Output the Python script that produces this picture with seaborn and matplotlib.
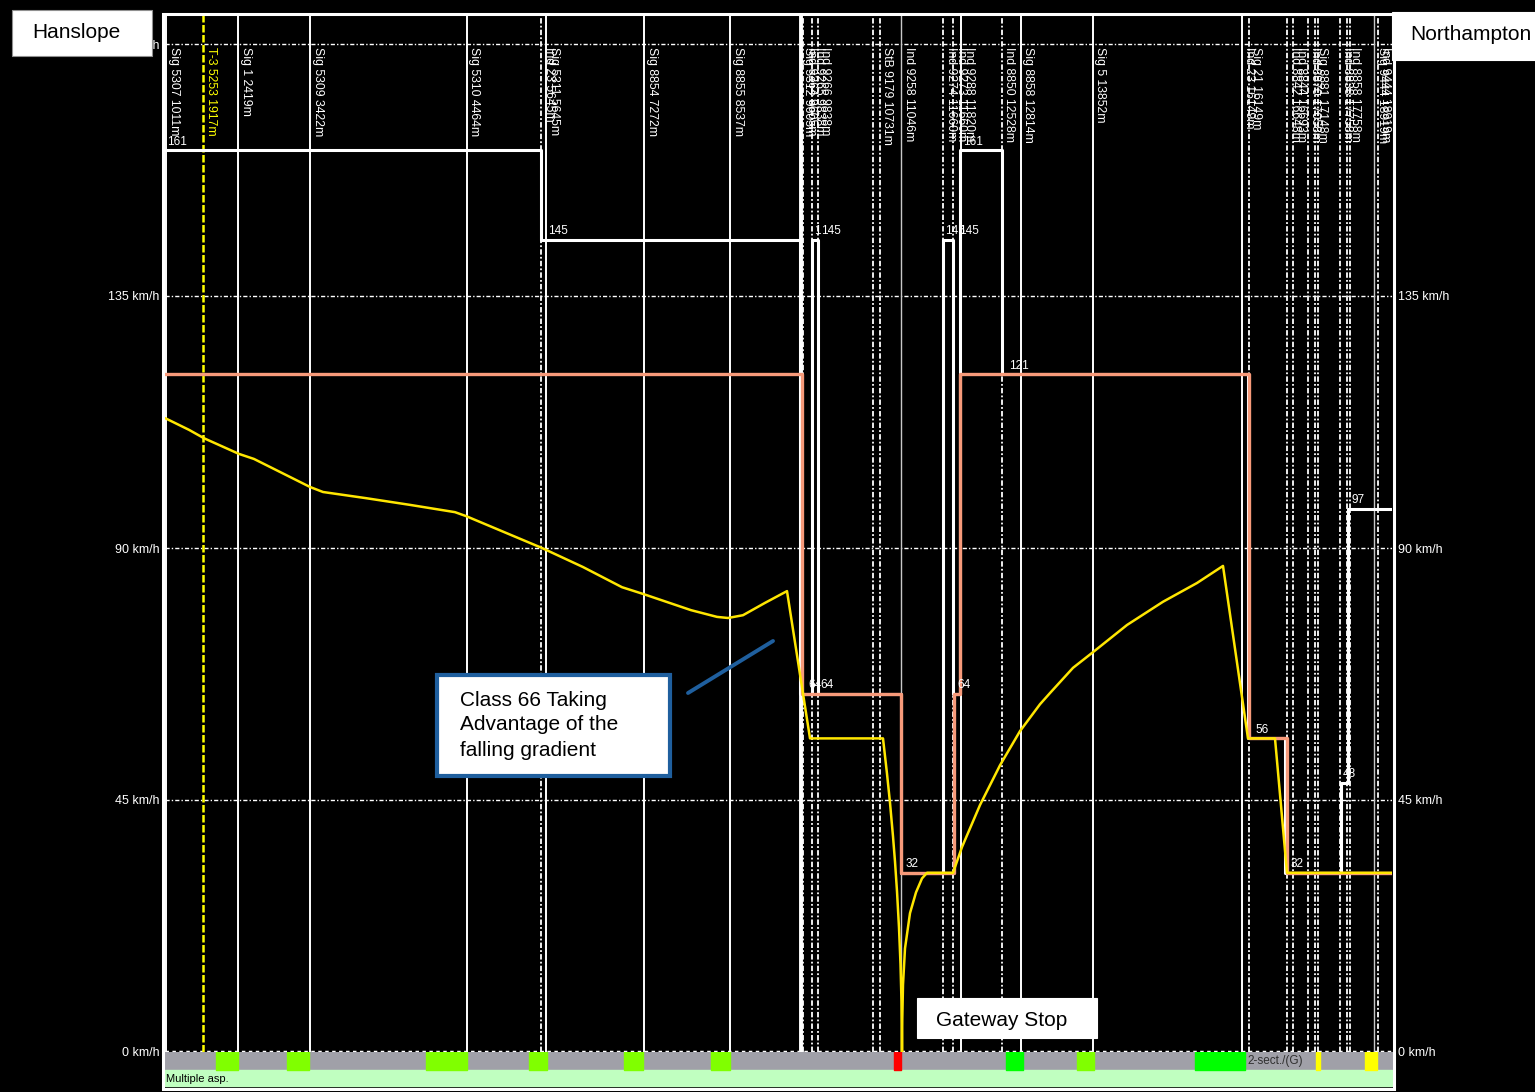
import matplotlib
matplotlib.use("Agg")
import matplotlib.pyplot as plt
import matplotlib.transforms as mtransforms
from matplotlib.patches import Rectangle
from matplotlib.lines import Line2D
import numpy as np
import pandas as pd
import seaborn as sns

# ---------------- data ----------------
speed_ticks = [0, 45, 90, 135, 180]

# track markers (chart position, label, kind)
marker_pos = [166, 203, 238, 310, 467, 541, 546, 644, 730,
              800.5, 803, 812, 818, 873, 880, 901, 943, 953, 961,
              1002, 1021, 1093, 1242, 1249, 1287, 1293, 1308, 1315, 1318,
              1340, 1347, 1350, 1374, 1378]
marker_label = ["Sig 5307 1011m", "T-3 5253 1917m", "Sig 1 2419m", "Sig 5309 3422m",
                "Sig 5310 4464m", "Ind 23 5645m", "Sig 5311 5645m", "Sig 8854 7272m",
                "Sig 8855 8537m", "Sig 5312 9605m", "Ind 9264 9605m", "Ind 9265 9838m",
                "Ind 9266 9838m", "", "StB 9179 10731m", "Ind 9258 11046m",
                "Ind 9274 11660m", "Ind 9273 11660m", "Ind 9288 11820m",
                "Ind 8850 12528m", "Sig 8858 12814m", "Sig 5 13852m",
                "Ind 23 16149m", "Sig 21 16149m", "Ind 8842 16648m", "Ind 8844 16693m",
                "Ind 8870 17058m", "Sig 8881 17148m", "", "Ind 8838 17758m",
                "Ind 8858 17758m", "", "Sig 9444 18919m", "Ind 9444 18919m"]
marker_kind = ["sig", "tsr", "sig", "sig", "sig", "ind", "sig", "sig", "sig",
               "thick", "ind", "ind", "ind", "ind", "ind", "grey", "ind", "ind", "sig",
               "ind", "sig", "sig", "sig", "ind", "ind", "ind", "ind", "ind", "ind",
               "ind", "ind", "ind", "grey", "ind"]

# line speed (white)
line_speed_pos = [165, 541, 541, 800, 800, 812, 812, 818, 818, 901, 901, 943, 943,
                  953, 953, 960, 960, 1002, 1002, 1248, 1248, 1285, 1285, 1341, 1341,
                  1348, 1348, 1392]
line_speed_kmh = [161, 161, 145, 145, 64, 64, 145, 145, 64, 64, 32, 32, 145,
                  145, 64, 64, 161, 161, 121, 121, 56, 56, 32, 32, 48,
                  48, 97, 97]

# permissible speed for the train (orange)
train_limit_pos = [165, 802, 802, 901, 901, 954, 954, 960, 960, 1249, 1249, 1287, 1287, 1392]
train_limit_kmh = [121, 121, 64, 64, 32, 32, 64, 64, 121, 121, 56, 56, 32, 32]

# simulated run (yellow)
run_pos = [165, 189, 204, 239, 254, 310, 323, 366, 410, 455, 466, 542, 583, 622, 643,
           691, 717, 728, 743, 765, 787, 810, 883, 887, 890, 893, 895, 897, 899, 900.5,
           901.5, 902, 902.3, 903, 905, 910, 916, 922, 927, 953, 962, 980, 1000, 1020,
           1040, 1050, 1073, 1093, 1127, 1163, 1197, 1223, 1248, 1275, 1287, 1392]
run_kmh = [113.2, 111.1, 109.6, 106.8, 105.9, 100.9, 100.0, 98.9, 97.7, 96.4, 95.7, 90.0,
           86.6, 83.0, 81.8, 78.9, 77.7, 77.5, 78.0, 80.2, 82.3, 56, 56, 49.7, 44.5, 38.5,
           34.0, 28.7, 22.2, 15.7, 9.0, 0, 6, 12, 18.5, 24.8, 28.5, 31, 32, 32, 36.6, 44.1,
           51.2, 57.3, 62.1, 64.1, 68.6, 71.4, 76.25, 80.4, 83.75, 86.8, 56, 56, 32, 32]

# speed labels on the limit profiles
limit_label_text = ["161", "145", "1", "145", "64", "64", "32", "145", "145", "161",
                    "64", "121", "56", "32", "48", "97"]
limit_label_pos = [167, 548, 814, 821, 808, 820, 906, 945, 959, 963,
                   957, 1009, 1255, 1291, 1343, 1351]
limit_label_kmh = [161, 145, 145, 145, 64, 64, 32, 145, 145, 161,
                   64, 121, 56, 32, 48, 97]

# signal aspect strip
aspect_start = [216, 287, 426, 529, 624, 711, 894, 1006, 1077, 1195, 1316, 1365]
aspect_end = [238, 309, 467, 547, 643, 730, 901, 1023, 1094, 1245, 1320, 1377]
aspect_color = ["#80ff00", "#80ff00", "#80ff00", "#80ff00", "#80ff00", "#80ff00",
                "#ff0000", "#00ff00", "#80ff00", "#00ff00", "#ffff00", "#ffff00"]

# ---------------- style ----------------
sns.set_theme(style="dark")
plt.rcParams["font.family"] = ["Liberation Sans", "DejaVu Sans"]

W, H = 1535, 1092
fig = plt.figure(figsize=(W / 100, H / 100), dpi=100, facecolor="black")

ax = fig.add_axes([165 / W, 1 - 1052 / H, 1227 / W, 1037 / H])
ax.set_facecolor("black")
ax.grid(False)
ax.set_xlim(165, 1392)
ax.set_ylim(0, 1037 / 5.6)
for s in ax.spines.values():
    s.set_visible(False)

# horizontal grid
for v in speed_ticks[1:]:
    ax.axhline(v, color="white", lw=1.0, ls=(0, (3, 1.5, 1, 1.5)), zorder=1)
ax.axhline(0, color="white", lw=2.5, ls=(0, (1, 1)), zorder=1, clip_on=False)

styles = {
    "sig": dict(color="white", lw=1.4, ls="-"),
    "ind": dict(color="white", lw=1.3, ls=(0, (3, 1.2, 1, 1.2))),
    "thick": dict(color="white", lw=2.8, ls="-"),
    "grey": dict(color="#c8c8c8", lw=1.0, ls="-"),
    "tsr": dict(color="#ffff00", lw=1.8, ls=(0, (3, 1))),
}
lab_tr = mtransforms.offset_copy(ax.transData, fig=fig, x=1.5, y=0, units="dots")
for p, lab, kind in zip(marker_pos, marker_label, marker_kind):
    ax.axvline(p, zorder=2, **styles[kind])
    if lab:
        ax.text(p, 179.4, lab, rotation=-90, ha="left", va="top", fontsize=8.8,
                color="#ffff00" if kind == "tsr" else "white", transform=lab_tr, zorder=3)

# speed profiles
df_line = pd.DataFrame({"pos": line_speed_pos, "kmh": line_speed_kmh})
df_train = pd.DataFrame({"pos": train_limit_pos, "kmh": train_limit_kmh})
df_run = pd.DataFrame({"pos": run_pos, "kmh": run_kmh})
sns.lineplot(data=df_line, x="pos", y="kmh", sort=False, estimator=None,
             color="white", lw=2.2, ax=ax, zorder=4)
sns.lineplot(data=df_train, x="pos", y="kmh", sort=False, estimator=None,
             color="#f79a7a", lw=2.4, ax=ax, zorder=5)
sns.lineplot(data=df_run, x="pos", y="kmh", sort=False, estimator=None,
             color="#ffe600", lw=1.8, ax=ax, zorder=6)
ax.set_xlabel("")
ax.set_ylabel("")

for t, p, v in zip(limit_label_text, limit_label_pos, limit_label_kmh):
    ax.text(p, v + 0.5, t, ha="left", va="bottom", fontsize=8.5, color="white", zorder=7)

ax.set_xticks([])
ax.set_yticks(speed_ticks)
ax.set_yticklabels([f"{v} km/h" for v in speed_ticks])
ax.tick_params(axis="y", length=0, labelsize=9, labelcolor="white", pad=4,
               left=True, right=True, labelleft=True, labelright=True)

# aspect strip
axb = fig.add_axes([165 / W, 1 - 1088 / H, 1227 / W, 36 / H])
axb.set_facecolor("black")
axb.set_xlim(165, 1392)
axb.set_ylim(0, 36)
axb.axis("off")
axb.broken_barh([(165, 1227)], (18, 18), color="#a0a0a8")
axb.broken_barh([(165, 1227)], (2, 16), color="#c0ffc0")
for s, e, c in zip(aspect_start, aspect_end, aspect_color):
    axb.broken_barh([(s, e - s)], (18, 18), color=c)
axb.text(166, 9, "Multiple asp.", fontsize=8, color="black", va="center", ha="left")
axb.text(1247, 27, "2-sect./(G)", fontsize=8.5, color="#303030", va="center", ha="left")

# frame
fig.add_artist(Rectangle((163 / W, 1 - 1089 / H), (1394 - 163) / W, (1089 - 14) / H,
                         transform=fig.transFigure, fill=False, ec="white", lw=2.2, zorder=4))


def box(x0, y0, x1, y1, ec="white", lw=0.8):
    fig.add_artist(Rectangle((x0 / W, 1 - y1 / H), (x1 - x0) / W, (y1 - y0) / H,
                             transform=fig.transFigure, fc="white", ec=ec, lw=lw, zorder=5))


def ftext(x, y, s, ha="left"):
    fig.text(x / W, 1 - y / H, s, ha=ha, va="center", fontsize=15, color="black", zorder=6)


box(12, 10, 152, 56, ec="#909090")
ftext(76, 33, "Hanslope", ha="center")
box(1392, 12, 1545, 60, ec="white")
ftext(1410, 34, "Northampton")
box(437, 675, 670, 776, ec="#1f5f9e", lw=3.0)
ftext(460, 701, "Class 66 Taking")
ftext(460, 725, "Advantage of the")
ftext(460, 750, "falling gradient")
fig.add_artist(Line2D([688 / W, 773 / W], [1 - 693 / H, 1 - 641 / H],
                      transform=fig.transFigure, color="#1f5f9e", lw=2.8, zorder=5))
box(917, 998, 1097, 1038, ec="white")
ftext(1002, 1020, "Gateway Stop", ha="center")

fig.savefig("out.png", dpi=100, facecolor="black")
